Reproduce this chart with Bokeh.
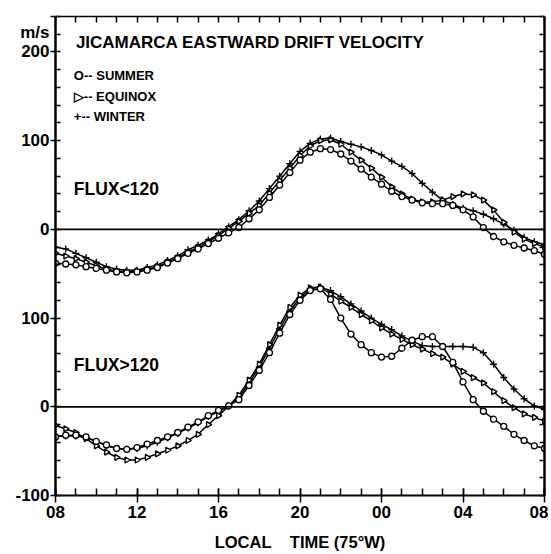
from math import pi
from bokeh.plotting import figure
from bokeh.models import Range1d, LinearAxis, FixedTicker, Span, Label
from bokeh.embed import file_html
from bokeh.resources import INLINE

# ---------------- data (m/s), local time 08 -> 08 next day ----------------
HOURS = [8.0, 8.5, 9.0, 9.5, 10.0, 10.5, 11.0, 11.5, 12.0, 12.5,
         13.0, 13.5, 14.0, 14.5, 15.0, 15.5, 16.0, 16.5, 17.0, 17.5,
         18.0, 18.5, 19.0, 19.5, 20.0, 20.5, 21.0, 21.5, 22.0, 22.5,
         23.0, 23.5, 24.0, 24.5, 25.0, 25.5, 26.0, 26.5, 27.0, 27.5,
         28.0, 28.5, 29.0, 29.5, 30.0, 30.5, 31.0, 31.5, 32.0]

# FLUX < 120 (upper panel)
LOWFLUX_SUMMER = [-38, -39, -40, -42, -44, -46, -48, -49, -48, -46,
                  -43, -38, -33, -27, -22, -16, -10, -4, 2, 12,
                  22, 36, 50, 64, 78, 87, 91, 90, 85, 77,
                  68, 59, 51, 43, 37, 33, 30, 29, 29, 27,
                  22, 14, 2, -8, -14, -18, -21, -24, -28]
LOWFLUX_EQUINOX = [-27, -30, -33, -37, -41, -45, -47, -48, -47, -45,
                   -42, -37, -32, -26, -20, -14, -7, 1, 9, 18,
                   27, 41, 55, 69, 83, 94, 100, 101, 96, 87,
                   78, 69, 59, 48, 40, 34, 31, 31, 33, 37,
                   40, 39, 33, 22, 8, -3, -11, -16, -20]
LOWFLUX_WINTER = [-20, -22, -27, -32, -37, -42, -45, -46, -46, -43,
                  -40, -35, -30, -23, -18, -12, -5, 3, 11, 21,
                  32, 46, 60, 74, 88, 97, 102, 103, 99, 96,
                  93, 89, 84, 77, 71, 63, 52, 42, 33, 28,
                  24, 21, 17, 12, 6, -1, -9, -14, -17]

# FLUX > 120 (lower panel)
HIGHFLUX_SUMMER = [-34, -32, -32, -34, -39, -43, -47, -48, -46, -42,
                   -38, -34, -29, -23, -17, -10, -4, 1, 8, 24,
                   41, 61, 83, 104, 120, 131, 133, 121, 100, 82,
                   70, 61, 56, 57, 66, 75, 79, 79, 68, 50,
                   28, 8, -5, -14, -22, -31, -38, -44, -47]
HIGHFLUX_EQUINOX = [-21, -25, -29, -36, -44, -51, -57, -60, -60, -57,
                    -53, -49, -44, -38, -31, -20, -10, 1, 13, 30,
                    48, 70, 92, 112, 126, 134, 135, 127, 119, 112,
                    104, 97, 89, 82, 76, 70, 65, 60, 56, 48,
                    40, 33, 27, 17, 7, -1, -8, -12, -16]
HIGHFLUX_WINTER = [-33, -33, -33, -35, -39, -44, -47, -48, -47, -44,
                   -40, -35, -30, -24, -18, -11, -5, 1, 11, 27,
                   45, 66, 88, 108, 123, 133, 135, 131, 124, 116,
                   108, 100, 93, 87, 80, 74, 69, 68, 68, 68,
                   68, 67, 61, 48, 33, 20, 9, 1, -3]

X_TICKS = [8, 12, 16, 20, 24, 28, 32]
X_TICK_LABELS = ["08", "12", "16", "20", "00", "04", "08"]
Y_TICKS = [-100, 0, 100, 200, 300, 400, 440]
Y_TICK_LABELS = ["-100", "0", "100", "0", "100", "200", "\nm/s"]

UPPER_OFFSET = 200  # upper panel drawn 200 m/s above the lower one

FONT = "Liberation Sans"

p = figure(width=548, height=553,
           x_range=Range1d(8, 32), y_range=Range1d(-100, 440),
           output_backend="svg", toolbar_location=None,
           x_axis_location=None, y_axis_location=None,
           min_border_left=55, min_border_right=4,
           min_border_top=16, min_border_bottom=56)
p.grid.visible = False
p.outline_line_color = None
p.background_fill_color = "white"
p.border_fill_color = "white"

# ---------------- axes ----------------
bottom = LinearAxis(
    ticker=FixedTicker(ticks=X_TICKS, minor_ticks=list(range(8, 33))),
    major_label_overrides={t: l for t, l in zip(X_TICKS, X_TICK_LABELS)},
    axis_label="LOCAL\u00a0\u00a0\u00a0 TIME (75\u00b0W)",
    axis_line_width=2, axis_line_color="black",
    major_tick_in=7, major_tick_out=7, minor_tick_in=7, minor_tick_out=0,
    major_tick_line_width=1.5, minor_tick_line_width=1.5,
    major_label_standoff=3, axis_label_standoff=12,
    major_label_text_font=FONT, major_label_text_font_size="17px",
    major_label_text_font_style="bold", major_label_text_color="black",
    axis_label_text_font=FONT, axis_label_text_font_size="16.5px",
    axis_label_text_font_style="bold", axis_label_text_color="black")
p.add_layout(bottom, "below")

left = LinearAxis(
    ticker=FixedTicker(ticks=Y_TICKS, minor_ticks=list(range(-100, 441, 20))),
    major_label_overrides={t: l for t, l in zip(Y_TICKS, Y_TICK_LABELS)},
    axis_line_width=2.5, axis_line_color="black",
    major_tick_in=0, major_tick_out=5, minor_tick_in=5, minor_tick_out=0,
    major_tick_line_width=1.5, minor_tick_line_width=1.5,
    major_label_standoff=1,
    major_label_text_font=FONT, major_label_text_font_size="17px",
    major_label_text_font_style="bold", major_label_text_color="black")
p.add_layout(left, "left")

right = LinearAxis(
    ticker=FixedTicker(ticks=list(range(-100, 441, 20)), minor_ticks=[]),
    axis_line_width=2.5, axis_line_color="black",
    major_tick_in=5, major_tick_out=0, minor_tick_in=0, minor_tick_out=0,
    major_tick_line_width=1.5, major_label_standoff=0,
    major_label_text_font_size="0px", major_label_text_color=None)
p.add_layout(right, "right")

top = LinearAxis(
    ticker=FixedTicker(ticks=list(range(8, 33)), minor_ticks=[]),
    axis_line_width=1.5, axis_line_color="black",
    major_tick_in=6, major_tick_out=0, minor_tick_in=0, minor_tick_out=0,
    major_tick_line_width=1.5, major_label_standoff=0,
    major_label_text_font_size="0px", major_label_text_color=None)
p.add_layout(top, "above")

# zero lines of both panels
p.add_layout(Span(location=0, dimension="width", line_color="black", line_width=1.8))
p.add_layout(Span(location=UPPER_OFFSET, dimension="width", line_color="black", line_width=1.8))

# ---------------- curves ----------------
def series(vals, marker, offset, **kw):
    ys = [v + offset for v in vals]
    p.line(HOURS, ys, line_color="black", line_width=1.5)
    p.scatter(HOURS, ys, marker=marker, line_color="black", **kw)

for off, su, eq, wi in [(UPPER_OFFSET, LOWFLUX_SUMMER, LOWFLUX_EQUINOX, LOWFLUX_WINTER),
                        (0, HIGHFLUX_SUMMER, HIGHFLUX_EQUINOX, HIGHFLUX_WINTER)]:
    series(wi, "cross", off, size=7, line_width=1.4)
    series(eq, "triangle", off, size=6, angle=-pi / 2, fill_color="white", line_width=1.4)
    series(su, "circle", off, size=6, fill_color="white", line_width=1.3)

# ---------------- texts ----------------
p.add_layout(Label(x=9.0, y=411, text="JICAMARCA EASTWARD DRIFT VELOCITY", text_font=FONT,
                   text_font_size="17px", text_font_style="bold",
                   text_baseline="middle", text_color="black"))
for yv, txt in [(373, "O-- SUMMER"), (350, "\u25b7-- EQUINOX"), (327, "+-- WINTER")]:
    p.add_layout(Label(x=8.9, y=yv, text=txt, text_font=FONT, text_font_size="13px",
                       text_font_style="bold", text_baseline="middle", text_color="black"))
p.add_layout(Label(x=8.9, y=UPPER_OFFSET + 46, text="FLUX<120", text_font=FONT,
                   text_font_size="17.5px", text_font_style="bold",
                   text_baseline="middle", text_color="black"))
p.add_layout(Label(x=8.9, y=47, text="FLUX>120", text_font=FONT,
                   text_font_size="17.5px", text_font_style="bold",
                   text_baseline="middle", text_color="black"))

open("out.html", "w").write(file_html(p, INLINE))
